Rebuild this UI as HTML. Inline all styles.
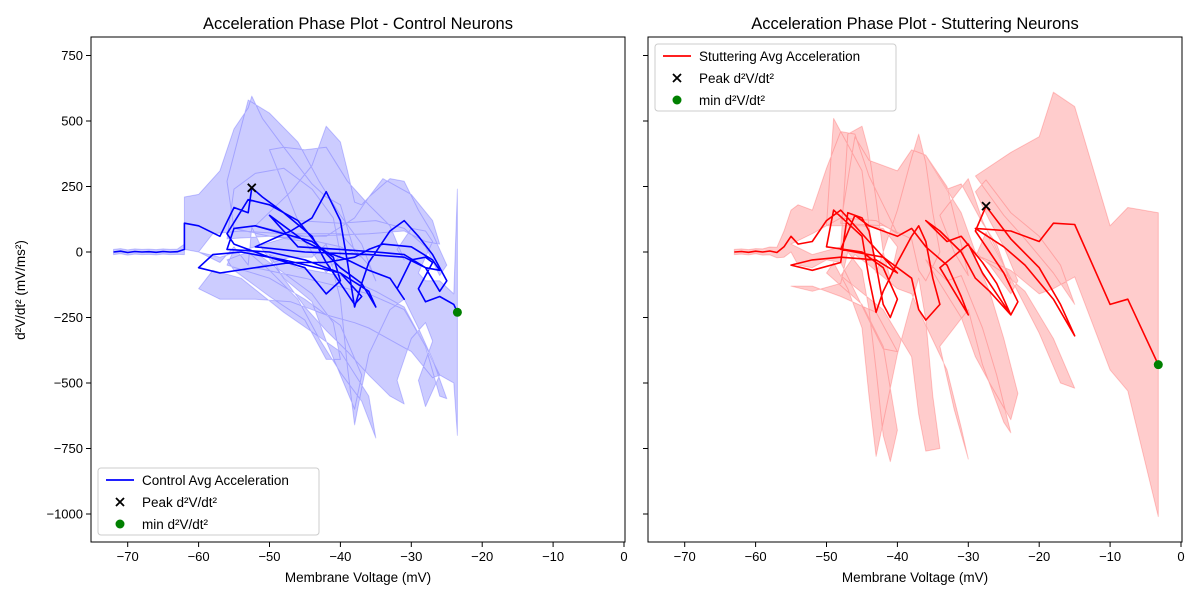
<!DOCTYPE html>
<html><head><meta charset="utf-8"><style>
body{margin:0;background:#fff;}
svg{font-family:"Liberation Sans","DejaVu Sans",sans-serif;}
</style></head><body>
<svg id="chart" width="1200" height="600" xmlns="http://www.w3.org/2000/svg"></svg>
<script>
// Control series: voltage (mV), acceleration, band upper offset, band lower offset
const ctrlV=[-72,-71,-70,-69,-68,-67,-66,-65,-64,-63,-62,
-62,-60,-57,-55,-53,-52.5,-51,-48,-44,-42,-40,-38,-37,-40,-45,-50,-56,
-55,-52,-48,-44,-41,-40,-42,-45,-50,-55,
-56,-53,-50,-46,-43,-40,-37,-35,-36,-40,-48,-54,
-58,-60,-57,-52,-47,-42,-38,-36,-34,-30,-27,-26,-28,-31,-36,-45,-52,
-47,-44,-42,-40,-39,-38,-37,-36,-33,-31,-29,-27,-25,-26,-28,-31,-35,-40,-46,
-50,-48,-45,-42,-39,-36,-33,-31,-32,-30,-28,-27,-29,-28,-26,-24,-23.5];
const ctrlA=[0,3,-2,2,0,1,-1,2,0,1,10,
110,100,60,170,150,245,210,150,60,-40,-120,-200,-170,-80,-30,0,10,
90,100,70,40,-20,-110,-160,-60,-20,30,
70,200,180,120,20,-60,-120,-210,-150,-80,-30,0,
-10,-60,-80,-60,-40,-40,-20,10,30,20,-30,-70,-60,-20,-10,0,20,
80,130,230,120,-40,-210,-120,-40,80,120,60,-10,-110,-150,-60,-10,0,10,20,
140,100,40,0,-30,-70,-100,-180,-140,-30,-20,-40,-140,-190,-170,-200,-230];
const ctrlHi=[10,10,10,10,10,10,10,10,10,10,20,
100,120,250,300,400,350,300,250,200,250,300,200,150,100,80,60,40,
150,200,250,200,150,100,80,100,80,60,
200,380,350,300,250,200,150,100,100,150,100,80,
80,60,60,80,100,100,150,200,250,200,150,100,100,100,80,60,80,
150,200,250,300,350,400,300,250,200,150,100,80,60,60,80,100,120,100,100,
250,300,350,400,300,250,200,150,150,120,100,80,60,80,60,40,470];
const ctrlLo=[10,10,10,10,10,10,10,10,10,10,20,
100,100,100,150,200,150,200,250,250,300,350,400,300,200,150,100,60,
80,100,150,200,250,300,250,200,150,100,
100,200,250,300,350,400,450,500,400,300,200,100,
60,80,100,120,150,200,250,300,350,400,450,400,300,200,150,100,80,
100,150,200,300,400,450,400,350,300,300,350,400,450,400,300,200,150,100,80,
150,200,250,300,350,400,450,400,350,300,250,300,350,400,300,300,470];
// Stuttering series
const stutV=[-63,-62,-61,-60,-59,-58,-57,
-56,-55,-54,-52,-50,-48,-46,-44,-42,-40,-43,-48,-52,-55,-52,-48,
-47,-45,-44,-43,-42,-41,-40,-42,-45,-50,
-49,-47,-45,-44,-43,-42,-40,-38,-37,-36,-35,-34,-36,-37,-38,-42,-48,
-46,-44,-40,-38,-36,-33,-31,-30,-32,-34,-30,-28,-25,-24,-26,-28,-31,-33,
-36,-34,-31,-29,-27,-24,-23,-25,-27,-29,-27.5,-24,-20,-17,-15,-18,-22,-25,-29,-24,-20,-18,-15,-10,-7.5,-3.2];
const stutA=[0,2,-1,3,0,4,-2,
20,60,30,40,120,160,100,40,-20,-80,-30,-20,-30,-50,-70,-40,
150,130,80,-50,-200,-250,-180,-60,0,20,
160,110,60,-100,-230,-150,-40,60,100,40,-100,-200,-260,-220,-100,-20,10,
140,100,60,90,20,-50,-170,-240,-150,-60,30,-80,-200,-240,-120,-40,60,40,
120,80,0,-100,-150,-240,-190,-80,0,80,175,50,-60,-200,-320,-180,-50,20,90,80,40,110,105,-200,-180,-430];
const stutHi=[10,10,10,10,12,15,20,
60,100,150,120,200,300,350,250,200,150,150,150,100,80,60,60,
300,350,300,250,200,150,200,150,100,80,
350,300,250,200,150,150,200,300,350,300,250,200,150,150,150,120,100,
300,250,250,300,350,300,200,150,150,200,250,200,150,120,150,150,200,200,
250,200,150,100,100,80,80,100,120,150,100,100,120,150,120,100,100,120,200,300,400,500,450,300,350,580];
const stutLo=[10,10,10,10,12,15,20,
40,60,80,100,150,200,250,300,350,300,200,150,100,80,80,80,
150,200,300,400,500,550,500,300,200,100,
200,250,350,450,550,500,350,250,200,300,450,550,500,400,300,200,100,
150,150,200,250,300,400,500,550,450,300,250,350,450,450,350,250,150,150,
150,200,250,300,350,400,350,250,150,100,100,150,250,300,200,150,100,100,100,150,200,250,200,250,350,580];
const xTicks=[-70,-60,-50,-40,-30,-20,-10,0];
const yTicks=[750,500,250,0,-250,-500,-750,-1000];

const svg=document.getElementById('chart');
const NS='http://www.w3.org/2000/svg';
function mk(tag,attrs,parent){const e=document.createElementNS(NS,tag);for(const k in attrs)e.setAttribute(k,attrs[k]);(parent||svg).appendChild(e);return e;}
const yScale=v=>252-(v/250)*65.5;
const plotTop=37,plotBot=542;
function fmt(n){return n<0?'\u2212'+Math.abs(n):String(n);}

function panel(x0,x1,zeroX,title,V,A,HI,LO,color,legendLabel,legendPos,showY,name){
  const xs=v=>zeroX+(v/10)*70.9;
  let peakIdx=0,minIdx=0;
  A.forEach((a,i)=>{if(a>A[peakIdx])peakIdx=i;if(a<A[minIdx])minIdx=i;});
  const g=mk('g',{});
  
  
  const clipId='clip-'+name;
  const cp=mk('clipPath',{id:clipId},g);mk('rect',{x:x0,y:plotTop,width:x1-x0,height:plotBot-plotTop},cp);
  const plot=mk('g',{'clip-path':'url(#'+clipId+')'},g);
  let d='';
  for(let i=0;i<V.length;i++)d+=(i?'L':'M')+xs(V[i]).toFixed(1)+','+yScale(A[i]+HI[i]).toFixed(1);
  for(let i=V.length-1;i>=0;i--)d+='L'+xs(V[i]).toFixed(1)+','+yScale(A[i]-LO[i]).toFixed(1);
  d+='Z';
  const band=mk('path',{d:d,fill:color,'fill-opacity':0.2,stroke:color,'stroke-opacity':0.2,'stroke-width':1,'stroke-linejoin':'round'},plot);
  
  
  const pts=V.map((v,i)=>xs(v).toFixed(1)+','+yScale(A[i]).toFixed(1)).join(' ');
  const line=mk('polyline',{points:pts,fill:'none',stroke:color,'stroke-width':1.6,'stroke-linejoin':'round'},plot);
  
  
  const px=xs(V[peakIdx]),py=yScale(A[peakIdx]);
  const pk=mk('path',{d:`M${px-4},${py-4}L${px+4},${py+4}M${px-4},${py+4}L${px+4},${py-4}`,stroke:'#000','stroke-width':1.8},plot);
  
  
  const mn=mk('circle',{cx:xs(V[minIdx]),cy:yScale(A[minIdx]),r:4.5,fill:'green'},plot);
  
  
  mk('rect',{x:x0,y:plotTop,width:x1-x0,height:plotBot-plotTop,fill:'none',stroke:'#000','stroke-width':1},g);
  xTicks.forEach(t=>{const x=xs(t);mk('line',{x1:x,x2:x,y1:plotBot,y2:plotBot+5,stroke:'#000'},g);
    const tx=mk('text',{x:x,y:plotBot+19,'font-size':13,'text-anchor':'middle'},g);tx.textContent=fmt(t);
    });
  yTicks.forEach(t=>{const y=yScale(t);mk('line',{x1:x0-5,x2:x0,y1:y,y2:y,stroke:'#000'},g);
    if(showY){const tx=mk('text',{x:x0-8,y:y+4.5,'font-size':13,'text-anchor':'end'},g);tx.textContent=fmt(t);
    }});
  const ti=mk('text',{x:(x0+x1)/2,y:29,'font-size':16.5,'text-anchor':'middle'},g);ti.textContent=title;
  
  const xl=mk('text',{x:(x0+x1)/2,y:582,'font-size':13.5,'text-anchor':'middle'},g);xl.textContent='Membrane Voltage (mV)';
  
  const [lx,ly,lw]=legendPos;
  const lg=mk('g',{},g);
  
  
  mk('rect',{x:lx,y:ly,width:lw,height:67,rx:3,fill:'#fff','fill-opacity':0.8,stroke:'#ccc'},lg);
  mk('line',{x1:lx+8,x2:lx+36,y1:ly+12,y2:ly+12,stroke:color,'stroke-width':1.8},lg);
  const e1=mk('text',{x:lx+44,y:ly+17,'font-size':13.5},lg);e1.textContent=legendLabel;
  const cx=lx+22,cy=ly+34;
  mk('path',{d:`M${cx-4},${cy-4}L${cx+4},${cy+4}M${cx-4},${cy+4}L${cx+4},${cy-4}`,stroke:'#000','stroke-width':1.8},lg);
  const e2=mk('text',{x:lx+44,y:ly+39,'font-size':13.5},lg);e2.textContent='Peak d\u00b2V/dt\u00b2';
  mk('circle',{cx:cx,cy:ly+56,r:4.5,fill:'green'},lg);
  const e3=mk('text',{x:lx+44,y:ly+61,'font-size':13.5},lg);e3.textContent='min d\u00b2V/dt\u00b2';
}
panel(91,625,624,'Acceleration Phase Plot - Control Neurons',ctrlV,ctrlA,ctrlHi,ctrlLo,'#0000ff','Control Avg Acceleration',[98,468,221],true,'control-panel');
panel(648,1182,1181,'Acceleration Phase Plot - Stuttering Neurons',stutV,stutA,stutHi,stutLo,'#ff0000','Stuttering Avg Acceleration',[655,44,241],false,'stuttering-panel');
const yl=mk('text',{x:25,y:290,'font-size':13.5,'text-anchor':'middle',transform:'rotate(-90 25 290)'});
yl.textContent='d\u00b2V/dt\u00b2 (mV/ms\u00b2)';


</script>
</body></html>
